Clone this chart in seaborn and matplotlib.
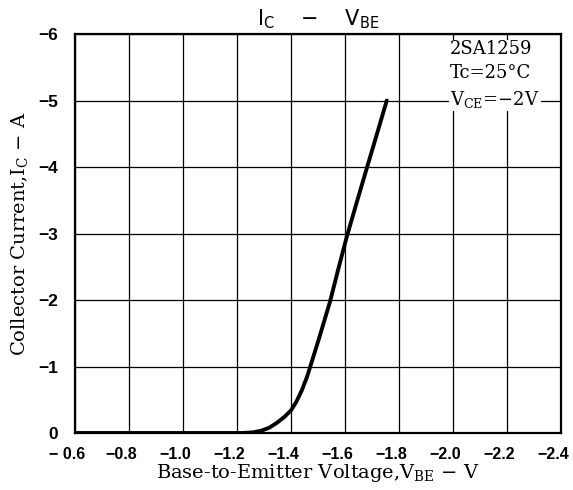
import pandas as pd
import numpy as np
import seaborn as sns
import matplotlib.pyplot as plt
import matplotlib.transforms as mtransforms

# curve (V_BE in V, I_C in A)
vbe = [-0.6, -1.0, -1.2, -1.22, -1.26, -1.29, -1.32, -1.35, -1.375, -1.40,
       -1.42, -1.44, -1.46, -1.48, -1.50, -1.52, -1.545, -1.575, -1.606,
       -1.643, -1.68, -1.718, -1.755]
ic = [0.0, 0.0, 0.0, 0.0, -0.01, -0.035, -0.08, -0.16, -0.24, -0.34,
      -0.47, -0.64, -0.85, -1.11, -1.37, -1.64, -1.98, -2.46, -2.94,
      -3.46, -3.97, -4.49, -5.0]

x_ticks = [-0.6, -0.8, -1.0, -1.2, -1.4, -1.6, -1.8, -2.0, -2.2, -2.4]
x_labels = ['\u2212 0.6', '\u22120.8', '\u22121.0', '\u22121.2', '\u22121.4',
            '\u22121.6', '\u22121.8', '\u22122.0', '\u22122.2', '\u22122.4']
y_ticks = [0, -1, -2, -3, -4, -5, -6]
y_labels = ['0', '\u22121', '\u22122', '\u22123', '\u22124', '\u22125', '\u22126']

df = pd.DataFrame({'VBE': vbe, 'IC': ic})

sns.set_style('white')
plt.rcParams['font.family'] = ['DejaVu Sans']
plt.rcParams['mathtext.fontset'] = 'dejavuserif'
plt.rcParams['mathtext.sf'] = 'DejaVu Sans'
plt.rcParams['text.color'] = 'black'
plt.rcParams['axes.labelcolor'] = 'black'
plt.rcParams['xtick.color'] = 'black'
plt.rcParams['ytick.color'] = 'black'

fig = plt.figure(figsize=(5.73, 4.9), dpi=100)
ax = fig.add_axes([0.1309, 0.1163, 0.848, 0.8143])

sns.lineplot(data=df, x='VBE', y='IC', ax=ax, color='black', linewidth=2.8)

ax.set_xlim(-0.6, -2.4)
ax.set_ylim(0, -6)
ax.set_xticks(x_ticks)
ax.set_xticklabels(x_labels, fontsize=11.5, fontweight='bold', family='Liberation Sans')
ax.set_yticks(y_ticks)
ax.set_yticklabels(y_labels, fontsize=12.5, fontweight='bold', family='Liberation Sans')
ax.tick_params(axis='x', length=0, pad=10)
ax.tick_params(axis='y', length=0, pad=12)
shift = mtransforms.ScaledTranslation(-0.08, 0, fig.dpi_scale_trans)
for lab in ax.get_xticklabels():
    lab.set_transform(lab.get_transform() + shift)
ax.grid(True, color='black', linewidth=0.9)
for s in ax.spines.values():
    s.set_color('black')
    s.set_linewidth(1.6)

ax.set_xlabel('Base-to-Emitter Voltage,V$_{\\mathrm{BE}}$ \u2212 V',
              fontsize=14, family='DejaVu Serif', labelpad=0)
ax.set_ylabel('Collector Current,I$_{\\mathrm{C}}$ \u2212 A',
              fontsize=14, family='DejaVu Serif', labelpad=6)
ax.set_title('I$_{\\mathsf{C}}$    \u2212    V$_{\\mathsf{BE}}$', fontsize=15, pad=6)

ax.text(0.772, 0.985, '2SA1259\nTc=25\u00b0C\nV$_{\\mathrm{CE}}$=\u22122V',
        transform=ax.transAxes, ha='left', va='top', fontsize=13,
        family='DejaVu Serif', linespacing=1.42,
        bbox=dict(facecolor='white', edgecolor='none', pad=1))

fig.savefig('out.png', dpi=100)
